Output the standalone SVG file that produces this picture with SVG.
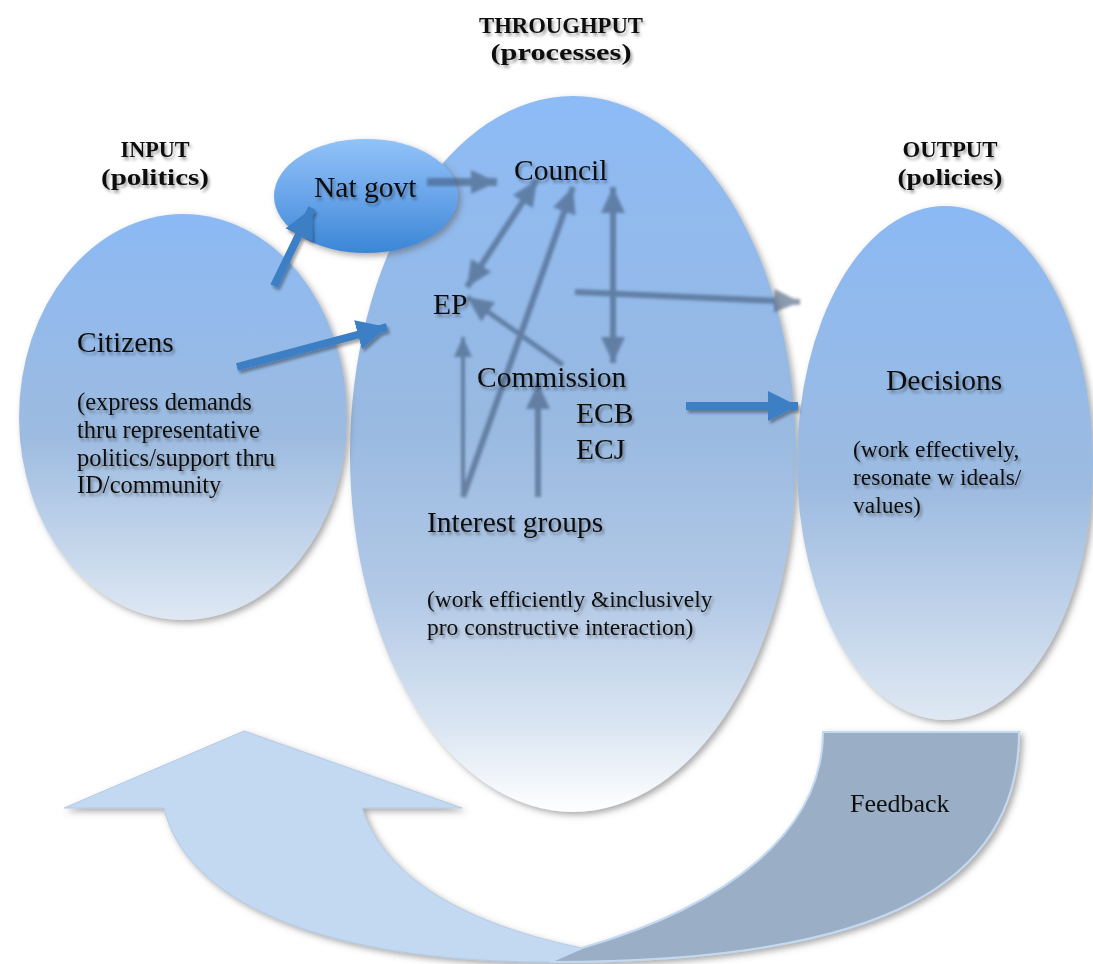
<svg xmlns="http://www.w3.org/2000/svg" width="1093" height="964" viewBox="0 0 1093 964">
<style>
  .lbl { font-family: "Liberation Serif", "Times New Roman", serif; font-size: 29.5px; fill: #111; }
  .sm { font-family: "Liberation Serif", "Times New Roman", serif; font-size: 23.5px; fill: #111; }
  .hd { font-family: "Liberation Serif", "Times New Roman", serif; font-size: 23px; font-weight: bold; fill: #111; }
  .garrow { fill: none; stroke: #3f5878; stroke-width: 6; }
  .barrow { fill: none; stroke: #3d7fc4; stroke-width: 8; }
</style>
<defs>
  <linearGradient id="gMid" x1="0" y1="0" x2="0" y2="1">
    <stop offset="0" stop-color="#8dbbf6"/>
    <stop offset="0.45" stop-color="#98b9e1"/>
    <stop offset="0.7" stop-color="#b3c9e6"/>
    <stop offset="0.88" stop-color="#dae5f2"/>
    <stop offset="1" stop-color="#ffffff"/>
  </linearGradient>
  <linearGradient id="gSide" x1="0" y1="0" x2="0" y2="1">
    <stop offset="0" stop-color="#8bb9f4"/>
    <stop offset="0.55" stop-color="#9dbbe0"/>
    <stop offset="1" stop-color="#dfe8f3"/>
  </linearGradient>
  <linearGradient id="gNat" x1="0" y1="0" x2="0" y2="1">
    <stop offset="0" stop-color="#92c2f8"/>
    <stop offset="0.5" stop-color="#6aa5ea"/>
    <stop offset="1" stop-color="#3a86d6"/>
  </linearGradient>
  <filter id="shadow" x="-10%" y="-10%" width="125%" height="125%">
    <feDropShadow dx="3" dy="3" stdDeviation="3" flood-color="#555" flood-opacity="0.5"/>
  </filter>
  <filter id="ts" x="-10%" y="-40%" width="130%" height="190%">
    <feGaussianBlur in="SourceAlpha" stdDeviation="1.6"/>
    <feOffset dx="2" dy="3" result="b"/>
    <feComponentTransfer><feFuncA type="linear" slope="0.35"/></feComponentTransfer>
    <feMerge><feMergeNode/><feMergeNode in="SourceGraphic"/></feMerge>
  </filter>
  <filter id="blur" x="-20%" y="-20%" width="140%" height="140%">
    <feGaussianBlur stdDeviation="1.4"/>
  </filter>
  <marker id="gh" markerUnits="userSpaceOnUse" markerWidth="28" markerHeight="24" refX="26" refY="12" orient="auto-start-reverse">
    <path d="M0,0 L26,12 L0,24 Z" fill="#3f5878"/>
  </marker>
  <marker id="ghs" markerUnits="userSpaceOnUse" markerWidth="22" markerHeight="18" refX="20" refY="9" orient="auto">
    <path d="M0,0 L20,9 L0,18 Z" fill="#3f5878"/>
  </marker>
  <marker id="bh" markerUnits="userSpaceOnUse" markerWidth="32" markerHeight="30" refX="30" refY="15" orient="auto">
    <path d="M0,0 L30,15 L0,30 Z" fill="#3d7fc4"/>
  </marker>
</defs>

<rect width="1093" height="964" fill="#ffffff"/>

<g id="throughput">
  <ellipse cx="573" cy="454" rx="223" ry="358" fill="url(#gMid)" filter="url(#shadow)"/>
</g>
<g id="citizens">
  <ellipse cx="183" cy="417" rx="164" ry="203" fill="url(#gSide)" filter="url(#shadow)"/>
  <g filter="url(#ts)">
    <text class="lbl" x="77" y="352">Citizens</text>
    <text class="sm" x="77" y="410" style="font-size:24.5px">(express demands</text>
    <text class="sm" x="77" y="438" style="font-size:24.5px">thru representative</text>
    <text class="sm" x="77" y="466" style="font-size:24.5px">politics/support thru</text>
    <text class="sm" x="77" y="493" style="font-size:24.5px">ID/community</text>
  </g>
</g>
<g id="decisions">
  <ellipse cx="945" cy="463" rx="148" ry="257" fill="url(#gSide)" filter="url(#shadow)"/>
  <g filter="url(#ts)">
    <text class="lbl" x="886" y="390">Decisions</text>
    <text class="sm" x="853" y="457">(work effectively,</text>
    <text class="sm" x="853" y="485">resonate w ideals/</text>
    <text class="sm" x="853" y="513">values)</text>
  </g>
</g>
<g id="natgovt">
  <ellipse cx="366" cy="196" rx="92" ry="57" fill="url(#gNat)" filter="url(#shadow)"/>
  <text class="lbl" x="314" y="197" filter="url(#ts)">Nat govt</text>
</g>

<g id="feedback" filter="url(#shadow)">
  <path d="M164,808 C185,900 320,962 550,962 L582,948 C470,925 385,880 362,808 L462,808 L244,731 L64,808 Z" fill="#c3d9f1" stroke="#b3cbe6" stroke-width="1"/>
  <path d="M823,732 L1019,732 C1019,900 850,962 550,962 L582,948 C730,905 823,830 823,732 Z" fill="#9aaec5" stroke="#c3d9f1" stroke-width="2"/>
  <text class="lbl" x="850" y="812" style="font-size:26px">Feedback</text>
</g>

<g id="connectors">
  <g opacity="0.6" filter="url(#blur)">
    <line class="garrow" x1="427" y1="182" x2="497" y2="182" style="stroke-width:8" marker-end="url(#gh)"/>
    <line class="garrow" x1="537" y1="180" x2="467" y2="287" marker-start="url(#gh)" marker-end="url(#gh)"/>
    <line class="garrow" x1="463" y1="497" x2="573" y2="187" marker-end="url(#gh)"/>
    <line class="garrow" x1="613" y1="187" x2="613" y2="363" marker-start="url(#gh)" marker-end="url(#gh)"/>
    <line class="garrow" x1="575" y1="292" x2="800" y2="302" marker-end="url(#gh)"/>
    <line class="garrow" x1="563" y1="365" x2="467" y2="297" style="stroke-width:5" marker-end="url(#gh)"/>
    <line class="garrow" x1="463" y1="497" x2="463" y2="337" style="stroke-width:4" marker-end="url(#ghs)"/>
    <line class="garrow" x1="538" y1="497" x2="538" y2="383" marker-end="url(#gh)"/>
  </g>
  <g filter="url(#ts)">
    <line class="barrow" x1="274" y1="286" x2="312" y2="208" marker-end="url(#bh)"/>
    <line class="barrow" x1="237" y1="367" x2="387" y2="327" marker-end="url(#bh)"/>
    <line class="barrow" x1="686" y1="406" x2="798" y2="406" marker-end="url(#bh)"/>
  </g>
</g>

<g id="council"><text class="lbl" x="514" y="180" filter="url(#ts)">Council</text></g>
<g id="ep"><text class="lbl" x="433" y="314" filter="url(#ts)">EP</text></g>
<g id="commission" filter="url(#ts)">
  <text class="lbl" x="477" y="387">Commission</text>
  <text class="lbl" x="576" y="423">ECB</text>
  <text class="lbl" x="576" y="459">ECJ</text>
</g>
<g id="interest-groups" filter="url(#ts)">
  <text class="lbl" x="427" y="532">Interest groups</text>
  <text class="sm" x="427" y="607">(work efficiently &amp;inclusively</text>
  <text class="sm" x="427" y="635">pro constructive interaction)</text>
</g>

<g id="input-label" filter="url(#ts)">
  <text class="hd" x="155" y="157" text-anchor="middle" textLength="69" lengthAdjust="spacingAndGlyphs">INPUT</text>
  <text class="hd" x="155" y="185" text-anchor="middle" textLength="108" lengthAdjust="spacingAndGlyphs">(politics)</text>
</g>
<g id="throughput-label" filter="url(#ts)">
  <text class="hd" x="561" y="33" text-anchor="middle" textLength="164" lengthAdjust="spacingAndGlyphs">THROUGHPUT</text>
  <text class="hd" x="561" y="60" text-anchor="middle" textLength="141" lengthAdjust="spacingAndGlyphs">(processes)</text>
</g>
<g id="output-label" filter="url(#ts)">
  <text class="hd" x="950" y="157" text-anchor="middle" textLength="95" lengthAdjust="spacingAndGlyphs">OUTPUT</text>
  <text class="hd" x="950" y="185" text-anchor="middle" textLength="105" lengthAdjust="spacingAndGlyphs">(policies)</text>
</g>
</svg>
